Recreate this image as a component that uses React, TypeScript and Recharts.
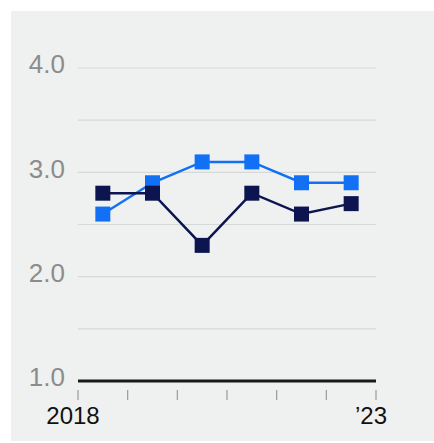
import React from 'react';
import { LineChart, Line, XAxis, YAxis, CartesianGrid } from 'recharts';

// Survey years (one band per year) and the two series plotted over them
const years = ['2018', '2019', '2020', '2021', '2022', '2023'];
const seriesLight = [2.6, 2.9, 3.1, 3.1, 2.9, 2.9];
const seriesDark = [2.8, 2.8, 2.3, 2.8, 2.6, 2.7];

// Tick labels at the band boundaries along the x axis
const xTickLabels = ['2018', '', '', '', '', '', '\u201923'];
const yTicks = [1, 1.5, 2, 2.5, 3, 3.5, 4];

const LIGHT = '#1170f4';
const DARK = '#0c1550';
const FONT = '"Liberation Sans", Arial, Helvetica, sans-serif';

// Each year sits in the middle of its band
const data = years.map((year, i) => ({
  year,
  pos: i + 0.5,
  light: seriesLight[i],
  dark: seriesDark[i],
}));

const squareDot = (color: string) => (props: any) => {
  const { cx, cy, index } = props;
  if (cx == null || cy == null) return <g key={index} />;
  const s = 15;
  return <rect key={index} x={cx - s / 2} y={cy - s / 2} width={s} height={s} fill={color} />;
};

const XTick = (props: any) => {
  const { x, y, payload } = props;
  const label = xTickLabels[payload.value] ?? '';
  return (
    <g>
      <line x1={x} x2={x} y1={y + 9} y2={y + 19} stroke="#9a9a9a" strokeWidth={1.2} />
      {label && (
        <text x={x - 5} y={y + 43} textAnchor="middle" fill="#111" fontSize={24} fontFamily={FONT}>
          {label}
        </text>
      )}
    </g>
  );
};

const YTick = (props: any) => {
  const { x, y, payload } = props;
  const v = payload.value as number;
  if (!Number.isInteger(v)) return <g />;
  return (
    <text x={x} y={y - 4} dy="0.355em" textAnchor="end" fill="#8c8c8c" fontSize={26} fontFamily={FONT}>
      {v.toFixed(1)}
    </text>
  );
};

export default function App() {
  return (
    <div style={{ position: 'absolute', left: 0, top: 0, width: 434, height: 443, background: '#fff' }}>
      <div
        style={{ position: 'absolute', left: 11, top: 11, width: 423, height: 430, background: '#eff1f1' }}
      />
      <div style={{ position: 'absolute', left: 0, top: 0 }}>
        <LineChart width={434} height={443} data={data} margin={{ top: 68, right: 58, bottom: 2, left: 0 }}>
          <CartesianGrid vertical={false} stroke="#d6d9d9" strokeWidth={1.2} />
          <XAxis
            dataKey="pos"
            type="number"
            domain={[0, 6]}
            ticks={[0, 1, 2, 3, 4, 5, 6]}
            interval={0}
            height={60}
            axisLine={{ stroke: '#1a1a1a', strokeWidth: 3 }}
            tickLine={false}
            tickSize={0}
            tickMargin={0}
            tick={<XTick />}
          />
          <YAxis
            type="number"
            domain={[1, 4]}
            ticks={yTicks}
            interval={0}
            width={78}
            axisLine={false}
            tickLine={false}
            tickSize={0}
            tickMargin={13}
            tick={<YTick />}
          />
          <Line
            dataKey="light"
            stroke={LIGHT}
            strokeWidth={2.5}
            dot={squareDot(LIGHT)}
            activeDot={false}
            isAnimationActive={false}
          />
          <Line
            dataKey="dark"
            stroke={DARK}
            strokeWidth={2.5}
            dot={squareDot(DARK)}
            activeDot={false}
            isAnimationActive={false}
          />
        </LineChart>
      </div>
    </div>
  );
}
